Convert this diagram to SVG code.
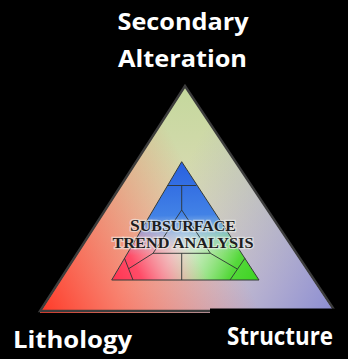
<svg xmlns="http://www.w3.org/2000/svg" width="348" height="359" viewBox="0 0 348 359">
<style>
.lbl{font-family:"Open Sans","Noto Sans",sans-serif;font-weight:bold;fill:#ffffff;text-anchor:middle}
.ttl{font-family:"Liberation Serif","DejaVu Serif",serif;font-weight:bold;fill:#1e1e1e;stroke:#f0f2ee;stroke-width:2.4;stroke-opacity:0.6;paint-order:stroke;text-anchor:middle}
.div{fill:none;stroke:#2c3433;stroke-width:0.9;stroke-linejoin:round}
</style>
<defs>
<linearGradient id="oA" gradientUnits="userSpaceOnUse" x1="185" y1="86" x2="187" y2="311">
<stop offset="0" stop-color="#c4d89c" stop-opacity="1"/><stop offset="0.9" stop-color="#c4d89c" stop-opacity="0"/></linearGradient>
<linearGradient id="oB" gradientUnits="userSpaceOnUse" x1="40" y1="313" x2="260" y2="200">
<stop offset="0" stop-color="#ff3826" stop-opacity="1"/><stop offset="0.8" stop-color="#ff5a48" stop-opacity="0"/></linearGradient>
<linearGradient id="oC" gradientUnits="userSpaceOnUse" x1="335" y1="313" x2="112" y2="200">
<stop offset="0" stop-color="#8a8cd2" stop-opacity="1"/><stop offset="0.8" stop-color="#a0a0d8" stop-opacity="0"/></linearGradient>
<linearGradient id="iA" gradientUnits="userSpaceOnUse" x1="182" y1="162" x2="185" y2="280">
<stop offset="0" stop-color="#2860e0" stop-opacity="1"/><stop offset="0.45" stop-color="#4282e6" stop-opacity="1"/><stop offset="0.78" stop-color="#a8cef0" stop-opacity="0"/></linearGradient>
<linearGradient id="iB" gradientUnits="userSpaceOnUse" x1="112" y1="280" x2="220" y2="221">
<stop offset="0" stop-color="#ff3450" stop-opacity="1"/><stop offset="0.22" stop-color="#ff4c68" stop-opacity="1"/><stop offset="0.7" stop-color="#ff90a0" stop-opacity="0"/></linearGradient>
<linearGradient id="iC" gradientUnits="userSpaceOnUse" x1="259" y1="280" x2="147" y2="221">
<stop offset="0" stop-color="#3cd420" stop-opacity="1"/><stop offset="0.22" stop-color="#54d83a" stop-opacity="1"/><stop offset="0.7" stop-color="#a0e890" stop-opacity="0"/></linearGradient>
</defs>
<rect width="348" height="359" fill="#000000"/>
<g id="outer-triangle">
<polygon points="185,86 40,313 335,313" fill="#ecdcc8"/>
<polygon points="185,86 40,313 335,313" fill="url(#oA)"/>
<polygon points="185,86 40,313 335,313" fill="url(#oC)"/>
<polygon points="185,86 40,313 335,313" fill="url(#oB)"/>
<polygon points="185,86 40,311 335,311" fill="none" stroke="#3c3c3c" stroke-width="2.4" stroke-linejoin="miter"/>
<rect x="210" y="308.5" width="138" height="50.5" fill="#000000"/>
</g>
<g id="inner-triangle">
<polygon points="181.7,161.7 111.7,280 259,280" fill="#e6efe0"/>
<polygon points="181.7,161.7 111.7,280 259,280" fill="url(#iC)"/>
<polygon points="181.7,161.7 111.7,280 259,280" fill="url(#iB)"/>
<polygon points="181.7,161.7 111.7,280 259,280" fill="url(#iA)"/>
<polygon points="181.7,161.7 111.7,280 259,280" fill="none" stroke="#333a38" stroke-width="1"/>
</g>
<g id="connectors">
<line class="div" x1="167.3" y1="185.5" x2="196.3" y2="185.5"/>
<line class="div" x1="181.7" y1="185.5" x2="181.7" y2="210"/>
<polyline class="div" points="153,253.3 181.7,210 210.4,253.3"/>
<line class="div" x1="153" y1="253.3" x2="210.4" y2="253.3"/>
<line class="div" x1="181.7" y1="253.3" x2="181.7" y2="280"/>
<line class="div" x1="124.5" y1="258.3" x2="133" y2="280"/>
<line class="div" x1="129" y1="268.5" x2="153" y2="253.3"/>
<line class="div" x1="244.9" y1="258.3" x2="230" y2="280"/>
<line class="div" x1="237.3" y1="269" x2="210.4" y2="253.3"/>
</g>
<g id="title">
<text class="ttl" x="183" y="231" font-size="15" textLength="106" lengthAdjust="spacingAndGlyphs"><tspan font-size="16.5">S</tspan>UBSURFACE</text>
<text class="ttl" x="183" y="248.3" font-size="15.5" textLength="141" lengthAdjust="spacingAndGlyphs">TREND ANALYSIS</text>
</g>
<g id="label-secondary-alteration">
<text class="lbl" x="183" y="29.5" font-size="24" textLength="131" lengthAdjust="spacingAndGlyphs">Secondary</text>
<text class="lbl" x="182.5" y="66.7" font-size="24" textLength="129" lengthAdjust="spacingAndGlyphs">Alteration</text>
</g>
<g id="label-lithology">
<text class="lbl" x="72.5" y="348" font-size="23" textLength="119" lengthAdjust="spacingAndGlyphs">Lithology</text>
</g>
<g id="label-structure">
<text class="lbl" x="280" y="345" font-size="24.5" textLength="106" lengthAdjust="spacingAndGlyphs">Structure</text>
</g>
</svg>
